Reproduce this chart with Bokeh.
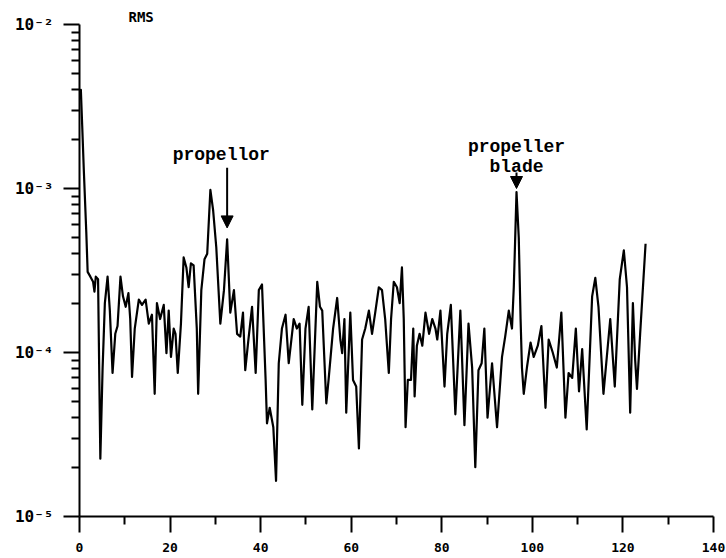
from bokeh.plotting import figure
from bokeh.models import Label, Arrow, NormalHead, FixedTicker, Range1d
from bokeh.embed import file_html
from bokeh.resources import INLINE

# Spectrum: frequency bins and RMS level
freq = [0.0, 0.3, 0.6, 0.95, 1.5, 1.8, 2.4, 3.0, 3.3, 3.6, 4.1, 4.6, 5.1, 5.6, 6.2, 6.7,
        7.3, 7.9, 8.4, 9.05, 9.6, 10.2, 10.8, 11.2, 11.6, 12.2, 13.1, 13.8, 14.6, 15.3,
        16.0, 16.6, 17.1, 17.8, 18.6, 19.2, 19.7, 20.2, 20.8, 21.2, 21.7, 22.4, 23.0,
        23.6, 24.1, 24.6, 25.2, 25.9, 26.2, 26.9, 27.6, 28.2, 28.9, 29.5, 30.2, 31.1,
        31.9, 32.6, 33.3, 34.1, 34.8, 35.5, 36.1, 36.6, 37.3, 38.1, 38.9, 39.6, 40.3,
        41.1, 41.4, 42.0, 42.8, 43.4, 44.0, 44.7, 45.5, 46.2, 47.3, 48.0, 48.6, 49.2,
        49.9, 50.6, 51.4, 52.5, 53.1, 53.6, 54.5, 55.0, 56.0, 56.9, 57.6, 58.0, 58.5,
        58.9, 59.8, 60.4, 61.1, 61.7, 62.4, 63.1, 63.9, 64.6, 65.3, 66.1, 66.8, 67.5,
        68.3, 68.8, 69.4, 70.1, 70.7, 71.2, 71.6, 72.0, 72.5, 73.2, 73.7, 74.0, 74.5,
        75.1, 75.7, 76.4, 77.2, 77.9, 78.6, 79.0, 79.7, 80.6, 81.2, 82.0, 83.0, 84.1,
        85.0, 85.9, 86.7, 87.4, 88.1, 88.8, 89.4, 90.1, 91.1, 92.2, 93.3, 94.0, 94.8,
        95.5, 95.9, 96.5, 97.0, 97.4, 97.7, 98.1, 98.8, 99.6, 100.3, 101.2, 102.0,
        102.9, 103.6, 104.5, 105.4, 106.4, 107.3, 108.0, 108.8, 109.6, 110.3, 111.0,
        112.0, 113.2, 113.9, 114.6, 115.7, 117.2, 118.2, 119.3, 120.2, 120.9, 121.6,
        122.2, 122.7, 123.1, 123.8, 125.0]

rms = [3.5e-3, 4.0e-3, 2.4e-3, 1.3e-3, 5.4e-4, 3.1e-4, 2.9e-4, 2.7e-4, 2.35e-4, 2.9e-4,
       2.8e-4, 2.25e-5, 8.0e-5, 2.0e-4, 2.9e-4, 1.8e-4, 7.5e-5, 1.3e-4, 1.45e-4, 2.9e-4,
       2.2e-4, 1.9e-4, 2.3e-4, 1.6e-4, 7.1e-5, 1.4e-4, 2.1e-4, 1.95e-4, 2.1e-4, 1.5e-4,
       1.7e-4, 5.6e-5, 2.0e-4, 1.6e-4, 1.95e-4, 9.9e-5, 1.8e-4, 9.4e-5, 1.4e-4, 1.3e-4,
       7.5e-5, 1.5e-4, 3.8e-4, 3.3e-4, 2.5e-4, 3.5e-4, 3.4e-4, 1.4e-4, 5.6e-5, 2.4e-4,
       3.7e-4, 4.0e-4, 9.8e-4, 7.4e-4, 4.4e-4, 1.5e-4, 2.4e-4, 4.9e-4, 1.75e-4, 2.4e-4,
       1.3e-4, 1.25e-4, 1.75e-4, 7.8e-5, 1.2e-4, 1.9e-4, 7.5e-5, 2.4e-4, 2.6e-4, 6.8e-5,
       3.7e-5, 4.6e-5, 3.5e-5, 1.65e-5, 8.6e-5, 1.4e-4, 1.7e-4, 8.6e-5, 1.6e-4, 1.4e-4,
       1.5e-4, 4.8e-5, 1.4e-4, 1.9e-4, 4.5e-5, 2.7e-4, 1.9e-4, 1.8e-4, 4.9e-5, 6.8e-5,
       1.4e-4, 2.15e-4, 1.2e-4, 9.9e-5, 1.6e-4, 4.3e-5, 1.75e-4, 6.8e-5, 6.2e-5, 2.6e-5,
       1.2e-4, 1.4e-4, 1.8e-4, 1.3e-4, 1.75e-4, 2.5e-4, 2.4e-4, 1.6e-4, 7.5e-5, 1.6e-4,
       2.7e-4, 2.5e-4, 2.0e-4, 3.3e-4, 1.6e-4, 3.5e-5, 6.8e-5, 6.8e-5, 1.4e-4, 5.4e-5,
       1.1e-4, 1.3e-4, 1.1e-4, 1.75e-4, 1.3e-4, 1.6e-4, 1.4e-4, 1.2e-4, 1.8e-4, 6.2e-5,
       1.3e-4, 1.95e-4, 4.2e-5, 1.8e-4, 3.6e-5, 1.5e-4, 8.1e-5, 2.0e-5, 7.8e-5, 8.6e-5,
       1.4e-4, 4.0e-5, 8.6e-5, 3.5e-5, 9.4e-5, 1.25e-4, 1.8e-4, 1.4e-4, 2.5e-4, 9.5e-4,
       5.0e-4, 1.6e-4, 8.1e-5, 5.6e-5, 8.1e-5, 1.15e-4, 9.4e-5, 1.1e-4, 1.45e-4, 4.6e-5,
       1.2e-4, 1.0e-4, 8.1e-5, 1.75e-4, 4.0e-5, 7.5e-5, 7.0e-5, 1.4e-4, 5.8e-5, 1.05e-4,
       3.4e-5, 2.2e-4, 2.85e-4, 1.9e-4, 5.6e-5, 1.6e-4, 6.2e-5, 2.8e-4, 4.2e-4, 2.5e-4,
       4.3e-5, 2.0e-4, 9.0e-5, 6.0e-5, 1.3e-4, 4.6e-4]

# Axis ticks
x_ticks = [0, 20, 40, 60, 80, 100, 120, 140]
x_minor_ticks = [10, 30, 50, 70, 90, 110, 130]
y_decades = [-5, -4, -3, -2]
y_tick_labels = ["10\u207b\u2075", "10\u207b\u2074", "10\u207b\u00b3", "10\u207b\u00b2"]

TICK_FONT = "DejaVu Sans Mono"
NOTE_FONT = "Liberation Mono"

p = figure(width=726, height=558,
           x_range=Range1d(0, 140), y_range=Range1d(1e-5, 1e-2),
           y_axis_type="log",
           output_backend="svg", toolbar_location=None,
           min_border_left=79, min_border_right=13,
           min_border_top=24, min_border_bottom=42)

p.background_fill_color = "white"
p.border_fill_color = "white"
p.outline_line_color = None
p.xgrid.visible = False
p.ygrid.visible = False

# title sits just above the frame, to the right of the y axis
p.title.text = "RMS"
p.title.align = "left"
p.title.offset = 49
p.title.standoff = 0
p.title.text_font = TICK_FONT
p.title.text_font_style = "bold"
p.title.text_font_size = "14px"
p.title.text_color = "black"

y_major = [10.0 ** e for e in y_decades]
p.xaxis.ticker = FixedTicker(ticks=x_ticks, minor_ticks=x_minor_ticks)
p.yaxis.ticker = FixedTicker(
    ticks=y_major,
    minor_ticks=[k * 10.0 ** e for e in y_decades[:-1] for k in range(2, 10)])
p.yaxis.major_label_overrides = dict(zip(y_major, y_tick_labels))

for ax in (p.xaxis[0], p.yaxis[0]):
    ax.axis_line_color = "black"
    ax.axis_line_width = 2
    ax.major_tick_line_color = "black"
    ax.major_tick_line_width = 2
    ax.minor_tick_line_color = "black"
    ax.minor_tick_line_width = 2
    ax.major_tick_in = 0
    ax.major_tick_out = 16
    ax.minor_tick_in = 0
    ax.minor_tick_out = 8
    ax.major_label_text_font = TICK_FONT
    ax.major_label_text_font_style = "bold"
    ax.major_label_text_color = "black"

p.xaxis.major_label_text_font_size = "13px"
p.xaxis.major_label_standoff = 10
p.yaxis.major_label_text_font_size = "16px"
p.yaxis.major_label_standoff = 10

p.line(freq, rms, line_color="black", line_width=2.2, line_join="round")

# annotations
p.add_layout(Label(x=31.3, y=1.6e-3, text="propellor", text_align="center",
                   text_baseline="alphabetic", text_font=NOTE_FONT,
                   text_font_style="bold", text_font_size="18px",
                   text_color="black"))
p.add_layout(Arrow(end=NormalHead(size=12, fill_color="black", line_color="black"),
                   x_start=32.6, y_start=1.34e-3, x_end=32.6, y_end=5.75e-4,
                   line_color="black", line_width=2))

p.add_layout(Label(x=96.5, y=1.8e-3, text="propeller", text_align="center",
                   text_baseline="alphabetic", text_font=NOTE_FONT,
                   text_font_style="bold", text_font_size="18px",
                   text_color="black"))
p.add_layout(Label(x=96.5, y=1.36e-3, text="blade", text_align="center",
                   text_baseline="alphabetic", text_font=NOTE_FONT,
                   text_font_style="bold", text_font_size="18px",
                   text_color="black"))
p.add_layout(Arrow(end=NormalHead(size=12, fill_color="black", line_color="black"),
                   x_start=96.5, y_start=1.25e-3, x_end=96.5, y_end=1.0e-3,
                   line_color="black", line_width=2))

open("out.html", "w").write(file_html(p, INLINE))
